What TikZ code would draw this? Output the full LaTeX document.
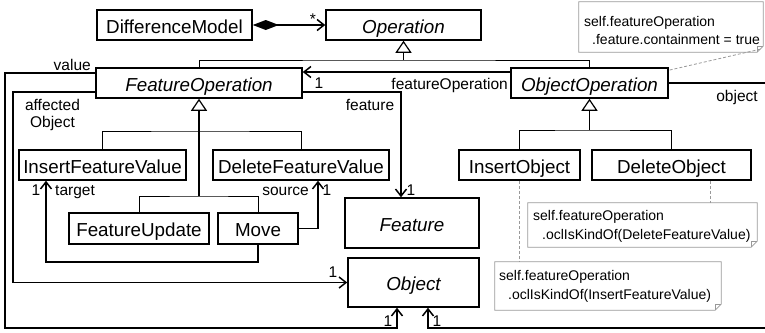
\documentclass[tikz,border=0pt]{standalone}
\usepackage{fontspec}
\setmainfont{Liberation Sans}
\usetikzlibrary{arrows.meta}

% outline of a UML note with a folded lower right corner
\newcommand\dogear[1]{%
  \draw[noteline] (#1.north west) -- (#1.north east) -- ([yshift=6pt]#1.south east)
    -- ([xshift=-6pt]#1.south east) -- (#1.south west) -- cycle;
  \draw[noteline] ([xshift=-6pt]#1.south east) -- ([xshift=-6pt,yshift=6pt]#1.south east)
    -- ([yshift=6pt]#1.south east);}

\begin{document}
\begin{tikzpicture}[x=1pt,y=-1pt,
  cls/.style={draw, line width=1.5pt, inner sep=0pt, text height=16pt, text depth=0pt,
              font=\fontsize{18.8}{22}\selectfont},
  abstr/.style={cls, font=\fontsize{18.8}{22}\selectfont\itshape},
  lbl/.style={inner sep=0pt, font=\fontsize{15.5}{17}\selectfont},
  notebox/.style={inner sep=0pt},
  notetxt/.style={inner sep=0pt, font=\fontsize{14}{19}\selectfont},
  noteline/.style={draw=black!40, line width=0.8pt},
  anchorline/.style={draw=black!40, line width=0.8pt, dash pattern=on 3pt off 2pt},
  assoc/.style={line width=1.5pt, -{Straight Barb[length=7pt,width=11pt]}},
  plain/.style={line width=1.5pt},
  bar/.style={line width=1pt},
  gen/.style={line width=1.5pt, -{Triangle[open,length=12pt,width=16pt,line width=1.2pt]}},
  comp/.style={line width=1.5pt, {Diamond[length=26pt,width=10pt]}-{Straight Barb[length=7pt,width=11pt]}},
]
\useasboundingbox (0,0) rectangle (765,332);
\clip (0,0) rectangle (765,332);

% classes
\node[cls, minimum width=155pt, minimum height=30pt] (DM) at (174.5,25) {DifferenceModel};
\node[abstr, minimum width=155pt, minimum height=30pt] (Op) at (403.5,25) {Operation};
\node[abstr, minimum width=206pt, minimum height=30pt] (FO) at (199,83) {FeatureOperation};
\node[abstr, minimum width=157pt, minimum height=30pt] (OO) at (589.5,83) {ObjectOperation};
\node[cls, minimum width=167pt, minimum height=30pt] (IFV) at (102.5,165) {InsertFeatureValue};
\node[cls, minimum width=176pt, minimum height=30pt] (DFV) at (301,165) {DeleteFeatureValue};
\node[cls, minimum width=140pt, minimum height=31pt] (FU) at (139,228.5) {FeatureUpdate};
\node[cls, minimum width=80pt, minimum height=31pt] (Mv) at (258,228.5) {Move};
\node[abstr, minimum width=134pt, minimum height=50pt] (Feat) at (412,223) {Feature};
\node[abstr, minimum width=131pt, minimum height=49pt] (Obj) at (413.5,282.5) {Object};
\node[cls, minimum width=121pt, minimum height=30pt] (IO) at (519.5,165) {InsertObject};
\node[cls, minimum width=159pt, minimum height=30pt] (DO) at (671.5,165) {DeleteObject};

% composition
\draw[comp] (DM.east) -- (Op.west);
\node[lbl, anchor=base] (lstar) at (313,24) {*};

% generalization of Operation
\coordinate (g1) at (403.5,60);
\draw[bar] (FO.north) |- (g1) -| (OO.north);
\draw[gen] (g1) -- (Op.south);

% generalization of FeatureOperation
\coordinate (g2) at (199,131);
\coordinate (g3) at (199,196);
\draw[bar] (IFV.north) |- (g2) -| (DFV.north);
\draw[bar] (FU.north) |- (g3) -| (Mv.north);
\draw[gen] (g3) -- (FO.south);

% generalization of ObjectOperation
\coordinate (g4) at (589.5,130);
\draw[bar] (IO.north) |- (g4) -| (DO.north);
\draw[gen] (g4) -- (OO.south);

% featureOperation
\coordinate (ya) at (0,72);
\draw[assoc] (OO.west |- ya) -- (FO.east |- ya);
\node[lbl, anchor=base] (lfo1) at (319,88.5) {1};
\node[lbl, anchor=base east] (lfo) at (508,89) {featureOperation};

% feature
\coordinate (fe) at (401,92);
\draw[assoc] (FO.east |- fe) -- (fe) -- (fe |- Feat.north);
\node[lbl, anchor=base] (lfeat) at (370,110) {feature};
\node[lbl, anchor=base] (lfeat1) at (411,195.5) {1};

% affectedObject
\coordinate (a1) at (13,92);
\coordinate (a2) at (13,282.5);
\draw[assoc] (FO.west |- a1) -- (a1) -- (a2) -- (Obj.west);
\node[lbl, anchor=base] (laff1) at (52.5,110) {affected};
\node[lbl, anchor=base] (laff2) at (52.5,127) {Object};
\node[lbl, anchor=base] (laffm) at (333,277.5) {1};

% value
\coordinate (v1) at (5,73);
\coordinate (v2) at (5,328);
\coordinate (v3) at (397,328);
\draw[assoc] (FO.west |- v1) -- (v1) -- (v2) -- (v3) -- (v3 |- Obj.south);
\node[lbl, anchor=base east] (lval) at (91,70) {value};
\node[lbl, anchor=base] (lvalm) at (388,326) {1};

% object
\coordinate (o1) at (790,83);
\coordinate (o2) at (790,328);
\coordinate (o3) at (428,328);
\draw[assoc] (OO.east) -- (o1) -- (o2) -- (o3) -- (o3 |- Obj.south);
\node[lbl, anchor=base] (lobj) at (737,101) {object};
\node[lbl, anchor=base] (lobjm) at (437,326) {1};

% source
\coordinate (m1) at (318,228.5);
\draw[assoc] (Mv.east) -- (m1) -- (m1 |- DFV.south);
\node[lbl, anchor=base east] (lsrc) at (309,195) {source};
\node[lbl, anchor=base] (lsrcm) at (327,195.5) {1};

% target
\coordinate (m2) at (258,262);
\coordinate (m3) at (46,262);
\draw[assoc] (Mv.south) -- (m2) -- (m3) -- (m3 |- IFV.south);
\node[lbl, anchor=base west] (ltgt) at (55,195) {target};
\node[lbl, anchor=base] (ltgtm) at (36,195.5) {1};

% constraint notes
\node[notebox, minimum width=184pt, minimum height=50pt] (N1) at (671,27) {};
\dogear{N1}
\node[notetxt, anchor=base west] (N1a) at (584,26) {self.featureOperation};
\node[notetxt, anchor=base west] (N1b) at (592,44) {.feature.containment = true};

\node[notebox, minimum width=229pt, minimum height=44pt] (N2) at (642.5,225) {};
\dogear{N2}
\node[notetxt, anchor=base west] (N2a) at (533,220) {self.featureOperation};
\node[notetxt, anchor=base west] (N2b) at (542,239) {.oclIsKindOf(DeleteFeatureValue)};

\node[notebox, minimum width=226pt, minimum height=48pt] (N3) at (608,286) {};
\dogear{N3}
\node[notetxt, anchor=base west] (N3a) at (499,280) {self.featureOperation};
\node[notetxt, anchor=base west] (N3b) at (508,299) {.oclIsKindOf(InsertFeatureValue)};

% note anchors
\draw[anchorline] ([xshift=-3pt,yshift=3pt]N1.south east) -- ([yshift=-3pt]OO.north east);
\coordinate (dx) at (710,0);
\draw[anchorline] (DO.south -| dx) -- (dx |- N2.north);
\draw[anchorline] (IO.south) -- (IO.south |- N3.north);
\end{tikzpicture}
\end{document}
